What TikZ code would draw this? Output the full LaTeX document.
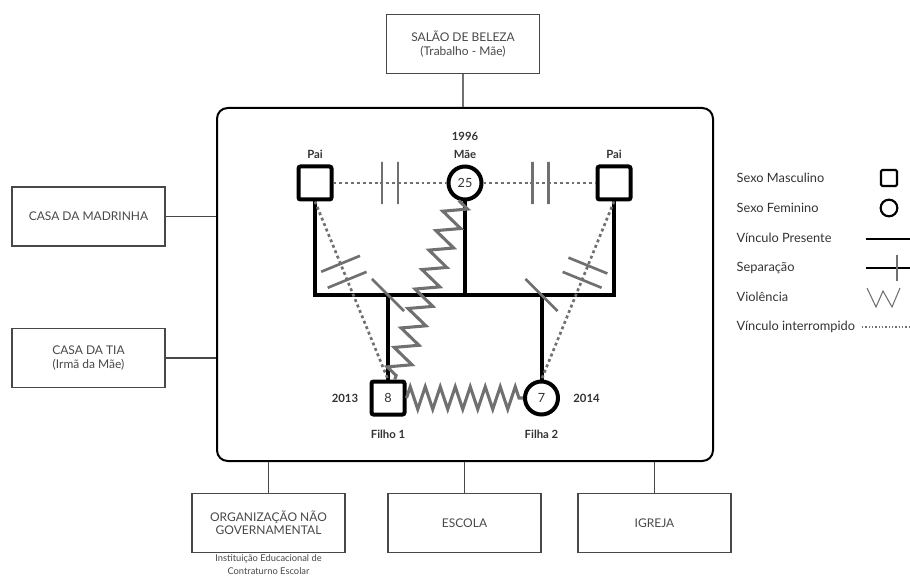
\documentclass[tikz,border=0pt]{standalone}
\usepackage{fontspec}
\setmainfont{Lato}
\usetikzlibrary{positioning,calc,decorations.pathmorphing}

\definecolor{ink}{HTML}{333333}
\definecolor{boxgray}{HTML}{484848}
\definecolor{markgray}{HTML}{707070}

\begin{document}
\begin{tikzpicture}[x=0.75pt, y=-0.75pt,
  every node/.style={align=center, font=\fontsize{9}{10}\selectfont, text=ink},
  place/.style={draw=boxgray, line width=0.8pt, minimum width=114.75pt, minimum height=44.25pt, text=boxgray},
  male/.style={draw, line width=3pt, minimum size=24.75pt, rounded corners=1.5pt, inner sep=0pt},
  female/.style={draw, circle, line width=3pt, minimum size=24.75pt, inner sep=0pt},
  tag/.style={font=\bfseries\fontsize{8.5}{10}\selectfont},
  keytext/.style={anchor=west, font=\fontsize{9.6}{11}\selectfont},
  bond/.style={line width=3pt},
  broken/.style={markgray, line width=2pt, dash pattern=on 2.2pt off 2.2pt},
  sepmark/.style={draw=markgray, solid, line width=2pt, minimum width=0pt, minimum height=31.5pt, inner sep=0pt, outer sep=0pt, sloped},
  violence/.style={markgray, line width=2.3pt, decorate},
  link/.style={boxgray, line width=0.8pt}
]
  \useasboundingbox (0,0) rectangle (910,581);

  % ecomapa: familia e lugares
  \node[draw, line width=1.5pt, rounded corners=8pt, minimum width=372pt, minimum height=264.75pt] (family) at (465,284.5) {};
  \node[place] (salao) at (463,44) {SALÃO DE BELEZA\\(Trabalho - Mãe)};
  \node[place] (madrinha) at (88.5,216.5) {CASA DA MADRINHA};
  \node[place] (tia) at (88.5,358) {CASA DA TIA\\(Irmã da Mãe)};
  \node[place] (ong) at (268.5,523) {ORGANIZAÇÃO NÃO\\GOVERNAMENTAL};
  \node[place] (escola) at (464.5,523) {ESCOLA};
  \node[place] (igreja) at (654.5,523) {IGREJA};
  \node[below=0pt of ong, inner sep=1pt, font=\fontsize{7}{9.5}\selectfont, text=boxgray] (ongNote) {Instituição Educacional de\\Contraturno Escolar};

  \draw[link, markgray] (salao) -- (salao |- family.north);
  \draw[link] (madrinha) -- (madrinha -| family.west);
  \draw[link] (tia) -- (tia -| family.west);
  \draw[link] (ong) -- (ong |- family.south);
  \draw[link] (escola) -- (escola |- family.south);
  \draw[link] (igreja) -- (igreja |- family.south);

  % genograma
  \node[male] (paiL) at (315,183) {};
  \node[female, font=\fontsize{9.5}{10}\selectfont] (mae) at (465,183) {25};
  \node[male] (paiR) at (614,183) {};
  \node[male, font=\fontsize{9.5}{10}\selectfont] (filho1) at (388,398) {8};
  \node[female, font=\fontsize{9.5}{10}\selectfont] (filha2) at (541.5,398) {7};
  \coordinate (bar) at (0,295);

  \node[tag, above=1pt of paiL] (paiLTag) {Pai};
  \node[tag, above=1pt of paiR] (paiRTag) {Pai};
  \node[tag, above=1pt of mae] (maeTag) {Mãe};
  \node[tag, above=0pt of maeTag] (maeYear) {1996};
  \node[tag, left=5pt of filho1] (filho1Year) {2013};
  \node[tag, right=6.5pt of filha2] (filha2Year) {2014};
  \node[tag, below=7pt of filho1] (filho1Tag) {Filho 1};
  \node[tag, below=7pt of filha2] (filha2Tag) {Filha 2};

  \draw[bond] (paiL.south) -- (paiL |- bar) -- (paiR |- bar) -- (paiR.south);
  \draw[bond] (mae.south) -- (mae |- bar);
  \draw[bond] (filho1 |- bar) -- (filho1.north);
  \draw[bond] (filha2 |- bar) -- (filha2.north);
  \node[sepmark, rotate=45, minimum height=34pt] (cutA) at (filho1 |- bar) {};
  \node[sepmark, rotate=45, minimum height=34pt] (cutB) at (filha2 |- bar) {};

  \draw[broken] (paiL) -- node[sepmark, pos=.43] (cutC) {} node[sepmark, pos=.57] (cutD) {} (mae);
  \draw[broken] (mae) -- node[sepmark, pos=.44] (cutE) {} node[sepmark, pos=.58] (cutF) {} (paiR);
  \draw[broken] (paiL.south) -- node[sepmark, pos=.35] (cutG) {} node[sepmark, pos=.44] (cutH) {} (filho1.north);
  \draw[broken] (paiR.south) -- node[sepmark, pos=.36] (cutI) {} node[sepmark, pos=.44] (cutJ) {} (filha2.north);

  \draw[violence, decoration={zigzag, segment length=15.5pt, amplitude=8.5pt}] (mae.250) -- (filho1.70);
  \draw[violence, decoration={zigzag, segment length=11.25pt, amplitude=8.5pt}] (filho1.east) -- (filha2.west);

  % legenda
  \node[keytext] (keyMale) at (732,178) {Sexo Masculino};
  \node[keytext] (keyFemale) at (732,208) {Sexo Feminino};
  \node[keytext] (keyBond) at (732,238) {Vínculo Presente};
  \node[keytext] (keySep) at (732,268) {Separação};
  \node[keytext] (keyViol) at (732,297) {Violência};
  \node[keytext] (keyBroken) at (732,327) {Vínculo interrompido};
  \node[male, line width=1.6pt, minimum size=12pt, rounded corners=1pt] (symMale) at (889,178) {};
  \node[female, line width=1.6pt, minimum size=12.5pt] (symFemale) at (889,208) {};
  \draw[line width=1.1pt] (866,239) -- (910,239);
  \draw[line width=1.1pt] (866,268) -- (910,268);
  \draw[markgray, line width=1.1pt] (897,255) -- (897,281);
  \draw[markgray, line width=0.8pt] (867,288) -- (876,307) -- (883,291) -- (892,307) -- (900,288);
  \draw[markgray, line width=1pt, dash pattern=on 1pt off 1.5pt] (862,327) -- (910,327);
\end{tikzpicture}
\end{document}
